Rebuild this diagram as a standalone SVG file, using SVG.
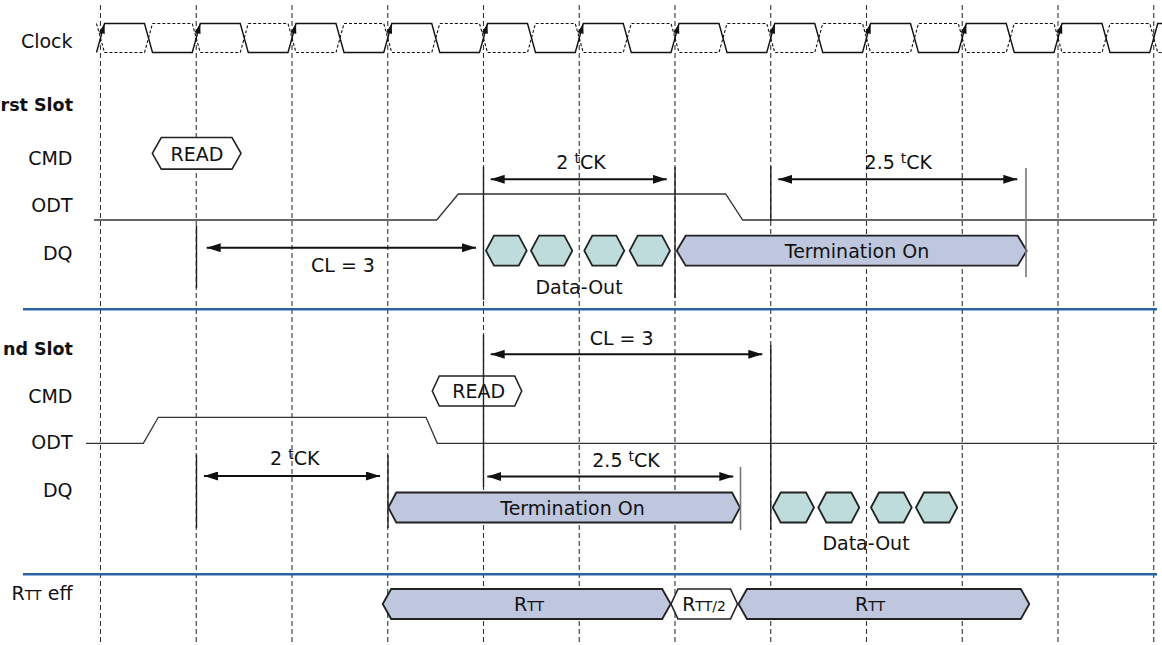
<svg xmlns="http://www.w3.org/2000/svg" xmlns:xlink="http://www.w3.org/1999/xlink" width="1162" height="645" viewBox="0 0 1162 645">
  <style>
    .grid { stroke: #333; stroke-width: 1.1; stroke-dasharray: 5 3; fill: none; }
    .lbl { font-family: "DejaVu Sans", "Liberation Sans", sans-serif; font-size: 19px; fill: #111; }
    .ttl { font-family: "DejaVu Sans", "Liberation Sans", sans-serif; font-size: 17.5px; font-weight: bold; fill: #111; }
    .sm { font-size: 14px; }
    .sup { font-size: 14px; }
    .clk { stroke: #111; stroke-width: 1.4; fill: none; }
    .clkn { stroke: #111; stroke-width: 1.1; fill: none; stroke-dasharray: 3 2; }
    .sig { stroke: #333; stroke-width: 1.3; fill: none; }
    .sep { stroke: #2b62a3; stroke-width: 2.4; fill: none; }
    .mark { stroke: #222; stroke-width: 1.4; fill: none; }
    .markg { stroke: #777; stroke-width: 1.6; fill: none; }
    .dim { stroke: #111; stroke-width: 1.9; fill: none; marker-start: url(#ah); marker-end: url(#ah); }
    .hexD { fill: #bddcdb; stroke: #222; stroke-width: 1.8; }
    .hexT { fill: #bfc7df; stroke: #222; stroke-width: 1.8; }
    .hexW { fill: #fff; stroke: #222; stroke-width: 1.6; }
  </style>
  <defs>
    <marker id="ah" markerUnits="userSpaceOnUse" markerWidth="15" markerHeight="9" refX="14" refY="4.5" orient="auto-start-reverse">
      <path d="M0,0 L14,4.5 L0,9 Z" fill="#111"/>
    </marker>
    <polygon id="clkArrow" points="4,23.5 -1.6,32.3 4.3,34" fill="#111"/>
  </defs>
  <rect width="1162" height="645" fill="#fff"/>

  <!-- clock-cycle grid -->
  <g id="grid">
    <line class="grid" x1="100.5" y1="5" x2="100.5" y2="645"/>
    <line class="grid" x1="196.25" y1="5" x2="196.25" y2="645"/>
    <line class="grid" x1="292" y1="5" x2="292" y2="645"/>
    <line class="grid" x1="387.75" y1="5" x2="387.75" y2="645"/>
    <line class="grid" x1="483.5" y1="5" x2="483.5" y2="645"/>
    <line class="grid" x1="579.25" y1="5" x2="579.25" y2="645"/>
    <line class="grid" x1="675" y1="5" x2="675" y2="645"/>
    <line class="grid" x1="770.75" y1="5" x2="770.75" y2="645"/>
    <line class="grid" x1="866.5" y1="5" x2="866.5" y2="645"/>
    <line class="grid" x1="962.25" y1="5" x2="962.25" y2="645"/>
    <line class="grid" x1="1058" y1="5" x2="1058" y2="645"/>
    <line class="grid" x1="1153.75" y1="5" x2="1153.75" y2="645"/>
  </g>

  <!-- section separators -->
  <g id="separators">
    <line class="sep" x1="23" y1="309.3" x2="1157" y2="309.3"/>
    <line class="sep" x1="23" y1="574.3" x2="1157" y2="574.3"/>
  </g>

  <!-- row labels -->
  <g id="labels">
    <text class="lbl" x="72.5" y="47.5" text-anchor="end">Clock</text>
    <text class="ttl" x="73" y="111" text-anchor="end">rst Slot</text>
    <text class="lbl" x="72.5" y="165" text-anchor="end">CMD</text>
    <text class="lbl" x="72.5" y="212" text-anchor="end">ODT</text>
    <text class="lbl" x="72.5" y="259.5" text-anchor="end">DQ</text>
    <text class="ttl" x="73" y="355" text-anchor="end">nd Slot</text>
    <text class="lbl" x="72.5" y="403" text-anchor="end">CMD</text>
    <text class="lbl" x="72.5" y="449" text-anchor="end">ODT</text>
    <text class="lbl" x="72.5" y="496.5" text-anchor="end">DQ</text>
    <text class="lbl" x="72.5" y="600" text-anchor="end">R<tspan class="sm">TT</tspan> eff</text>
  </g>

  <!-- differential clock -->
  <g id="clock">
    <path class="clkn" d="M96.5,23.5 L104.5,52.5 L144.5,52.5 L152.5,23.5 L192.25,23.5 L200.25,52.5 L240.25,52.5 L248.25,23.5 L288,23.5 L296,52.5 L336,52.5 L344,23.5 L383.75,23.5 L391.75,52.5 L431.75,52.5 L439.75,23.5 L479.5,23.5 L487.5,52.5 L527.5,52.5 L535.5,23.5 L575.25,23.5 L583.25,52.5 L623.25,52.5 L631.25,23.5 L671,23.5 L679,52.5 L719,52.5 L727,23.5 L766.75,23.5 L774.75,52.5 L814.75,52.5 L822.75,23.5 L862.5,23.5 L870.5,52.5 L910.5,52.5 L918.5,23.5 L958.25,23.5 L966.25,52.5 L1006.25,52.5 L1014.25,23.5 L1054,23.5 L1062,52.5 L1102,52.5 L1110,23.5 L1149.75,23.5 L1157.75,52.5 L1170,52.5"/>
    <path class="clk" d="M96.5,52.5 L104.5,23.5 L144.5,23.5 L152.5,52.5 L192.25,52.5 L200.25,23.5 L240.25,23.5 L248.25,52.5 L288,52.5 L296,23.5 L336,23.5 L344,52.5 L383.75,52.5 L391.75,23.5 L431.75,23.5 L439.75,52.5 L479.5,52.5 L487.5,23.5 L527.5,23.5 L535.5,52.5 L575.25,52.5 L583.25,23.5 L623.25,23.5 L631.25,52.5 L671,52.5 L679,23.5 L719,23.5 L727,52.5 L766.75,52.5 L774.75,23.5 L814.75,23.5 L822.75,52.5 L862.5,52.5 L870.5,23.5 L910.5,23.5 L918.5,52.5 L958.25,52.5 L966.25,23.5 L1006.25,23.5 L1014.25,52.5 L1054,52.5 L1062,23.5 L1102,23.5 L1110,52.5 L1149.75,52.5 L1157.75,23.5 L1170,23.5"/>
    <use href="#clkArrow" x="100.5"/>
    <use href="#clkArrow" x="196.25"/>
    <use href="#clkArrow" x="292"/>
    <use href="#clkArrow" x="387.75"/>
    <use href="#clkArrow" x="483.5"/>
    <use href="#clkArrow" x="579.25"/>
    <use href="#clkArrow" x="675"/>
    <use href="#clkArrow" x="770.75"/>
    <use href="#clkArrow" x="866.5"/>
    <use href="#clkArrow" x="962.25"/>
    <use href="#clkArrow" x="1058"/>
  </g>

  <!-- first slot -->
  <g id="slot1-cmd">
    <path class="hexW" d="M152.3,153.3 L161.3,137.5 L232,137.5 L241,153.3 L232,169.1 L161.3,169.1 Z"/>
    <text class="lbl" x="197" y="160.5" text-anchor="middle">READ</text>
  </g>
  <g id="slot1-odt">
    <path class="sig" d="M94,220 L436.7,220 L458.3,194 L725.7,194 L742.7,220 L1157,220"/>
  </g>
  <g id="slot1-dq">
    <path class="hexD" d="M486,250.7 L494,235.7 L518.7,235.7 L526.7,250.7 L518.7,265.7 L494,265.7 Z"/>
    <path class="hexD" d="M531,250.7 L539,235.7 L564.3,235.7 L572.3,250.7 L564.3,265.7 L539,265.7 Z"/>
    <path class="hexD" d="M584.3,250.7 L592.3,235.7 L616.3,235.7 L624.3,250.7 L616.3,265.7 L592.3,265.7 Z"/>
    <path class="hexD" d="M629.7,250.7 L637.7,235.7 L662,235.7 L670,250.7 L662,265.7 L637.7,265.7 Z"/>
    <text class="lbl" x="579" y="294" text-anchor="middle">Data-Out</text>
  </g>
  <g id="slot1-term">
    <path class="hexT" d="M676.7,250.7 L685.7,235.7 L1017.7,235.7 L1026.7,250.7 L1017.7,265.7 L685.7,265.7 Z"/>
    <text class="lbl" x="857" y="258" text-anchor="middle">Termination On</text>
  </g>

  <!-- second slot -->
  <g id="slot2-cmd">
    <path class="hexW" d="M432.3,391 L439.3,376 L514.7,376 L521.7,391 L514.7,406 L439.3,406 Z"/>
    <text class="lbl" x="478.7" y="397.5" text-anchor="middle">READ</text>
  </g>
  <g id="slot2-odt">
    <path class="sig" d="M86,443.3 L143.3,443.3 L158.3,417.3 L426,417.3 L437.3,443.3 L1157,443.3"/>
  </g>
  <g id="slot2-term">
    <path class="hexT" d="M388.3,507.5 L396.3,492.5 L732,492.5 L740,507.5 L732,522.5 L396.3,522.5 Z"/>
    <text class="lbl" x="572.5" y="514.5" text-anchor="middle">Termination On</text>
  </g>
  <g id="slot2-dq">
    <path class="hexD" d="M772.7,507.5 L780.7,492.5 L806,492.5 L814,507.5 L806,522.5 L780.7,522.5 Z"/>
    <path class="hexD" d="M818.3,507.5 L826.3,492.5 L851.3,492.5 L859.3,507.5 L851.3,522.5 L826.3,522.5 Z"/>
    <path class="hexD" d="M871,507.5 L879,492.5 L903.7,492.5 L911.7,507.5 L903.7,522.5 L879,522.5 Z"/>
    <path class="hexD" d="M916,507.5 L924,492.5 L949.3,492.5 L957.3,507.5 L949.3,522.5 L924,522.5 Z"/>
    <text class="lbl" x="866" y="550" text-anchor="middle">Data-Out</text>
  </g>

  <!-- effective termination -->
  <g id="rtt-eff">
    <path class="hexT" d="M382.7,604 L391.2,589 L662.2,589 L670.7,604 L662.2,619 L391.2,619 Z"/>
    <path class="hexW" d="M671,604 L678,589 L730.5,589 L737.5,604 L730.5,619 L678,619 Z"/>
    <path class="hexT" d="M738.5,604 L747,589 L1020.8,589 L1029.3,604 L1020.8,619 L747,619 Z"/>
    <text class="lbl" x="529" y="611" text-anchor="middle">R<tspan class="sm">TT</tspan></text>
    <text class="lbl" x="704" y="611" text-anchor="middle">R<tspan class="sm">TT/2</tspan></text>
    <text class="lbl" x="870" y="611" text-anchor="middle">R<tspan class="sm">TT</tspan></text>
  </g>

  <!-- timing references and intervals -->
  <g id="connectors">
    <line class="mark" x1="196.5" y1="226" x2="196.5" y2="288"/>
    <line class="mark" x1="483.5" y1="167" x2="483.5" y2="300"/>
    <line class="mark" x1="675" y1="167" x2="675" y2="298"/>
    <line class="mark" x1="770.75" y1="166" x2="770.75" y2="221"/>
    <line class="markg" x1="1026" y1="168" x2="1026" y2="277"/>

    <line class="mark" x1="483.5" y1="335" x2="483.5" y2="487"/>
    <line class="mark" x1="770.75" y1="345" x2="770.75" y2="530"/>
    <line class="mark" x1="196.5" y1="455" x2="196.5" y2="528"/>
    <line class="mark" x1="388" y1="455" x2="388" y2="528"/>
    <line class="markg" x1="740.5" y1="467" x2="740.5" y2="530"/>

    <line class="dim" x1="206.7" y1="247.7" x2="476" y2="247.7"/>
    <line class="dim" x1="490.7" y1="179.3" x2="666.7" y2="179.3"/>
    <line class="dim" x1="778.3" y1="179.3" x2="1017.3" y2="179.3"/>
    <line class="dim" x1="490.7" y1="354.3" x2="762.3" y2="354.3"/>
    <line class="dim" x1="204" y1="476" x2="380" y2="476"/>
    <line class="dim" x1="487.3" y1="476.5" x2="733.3" y2="476.5"/>

    <text class="lbl" x="343" y="271.5" text-anchor="middle">CL = 3</text>
    <text class="lbl" x="581" y="169" text-anchor="middle">2 <tspan class="sup" dy="-6">t</tspan><tspan dy="6">CK</tspan></text>
    <text class="lbl" x="898.3" y="169" text-anchor="middle">2.5 <tspan class="sup" dy="-6">t</tspan><tspan dy="6">CK</tspan></text>
    <text class="lbl" x="621.7" y="345" text-anchor="middle">CL = 3</text>
    <text class="lbl" x="294.7" y="465" text-anchor="middle">2 <tspan class="sup" dy="-6">t</tspan><tspan dy="6">CK</tspan></text>
    <text class="lbl" x="626" y="466.5" text-anchor="middle">2.5 <tspan class="sup" dy="-6">t</tspan><tspan dy="6">CK</tspan></text>
  </g>
</svg>
